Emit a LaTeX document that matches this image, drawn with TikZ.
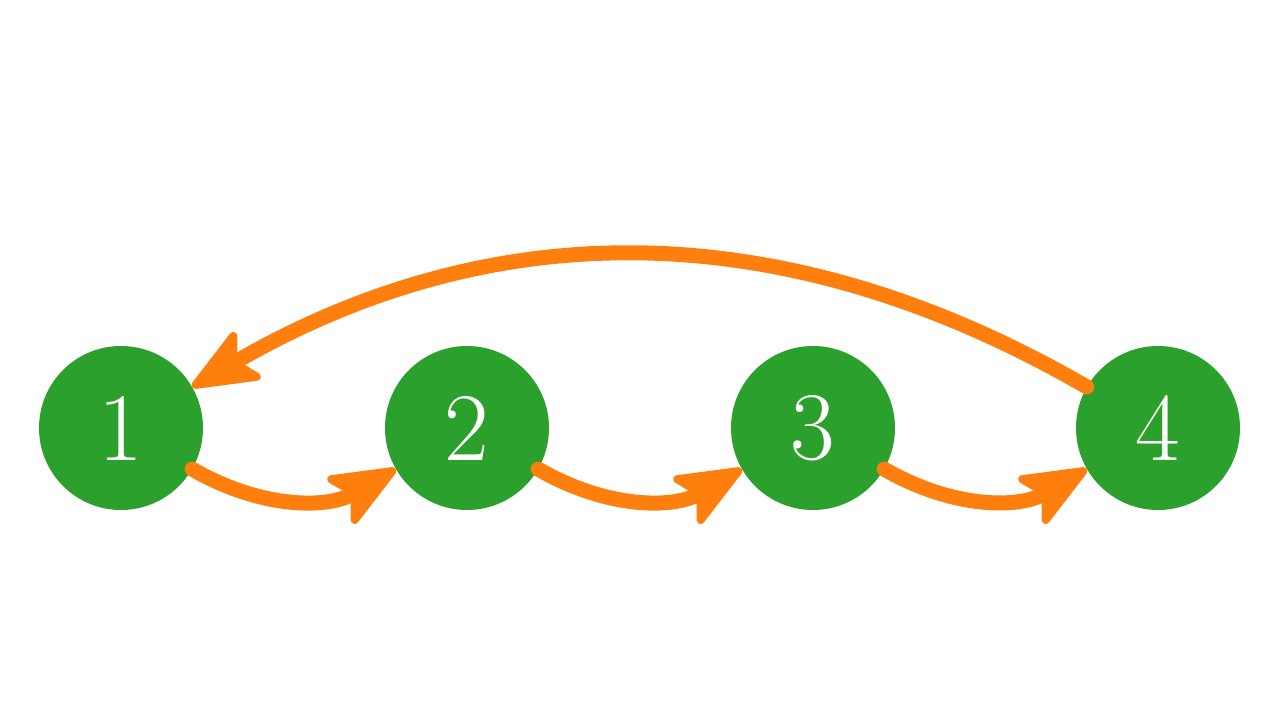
\documentclass[tikz,border=0pt]{standalone}
\usetikzlibrary{arrows.meta}
\definecolor{mgreen}{HTML}{2CA02C}
\definecolor{morange}{HTML}{FF7F0E}
\begin{document}
\begin{tikzpicture}[x=1pt,y=1pt,
  vertex/.style={circle, fill=mgreen, minimum size=164pt, inner sep=0pt, text=white, font=\fontsize{97}{97}\selectfont},
  edge/.style={draw=morange, line width=15pt, line cap=round,
    -{Stealth[length=76pt, width=62pt, inset=17pt, round, line width=8pt]}}]
\useasboundingbox (0,0) rectangle (1280,720);
\node[vertex] (n1) at (121,292) {1};
\node[vertex] (n2) at (467,292) {2};
\node[vertex] (n3) at (813,292) {3};
\node[vertex] (n4) at (1158,292) {4};
\draw[edge] (n1) to[bend right=30] (n2);
\draw[edge] (n2) to[bend right=30] (n3);
\draw[edge] (n3) to[bend right=30] (n4);
\draw[edge] (n4) to[bend right=30] (n1);
\end{tikzpicture}
\end{document}
